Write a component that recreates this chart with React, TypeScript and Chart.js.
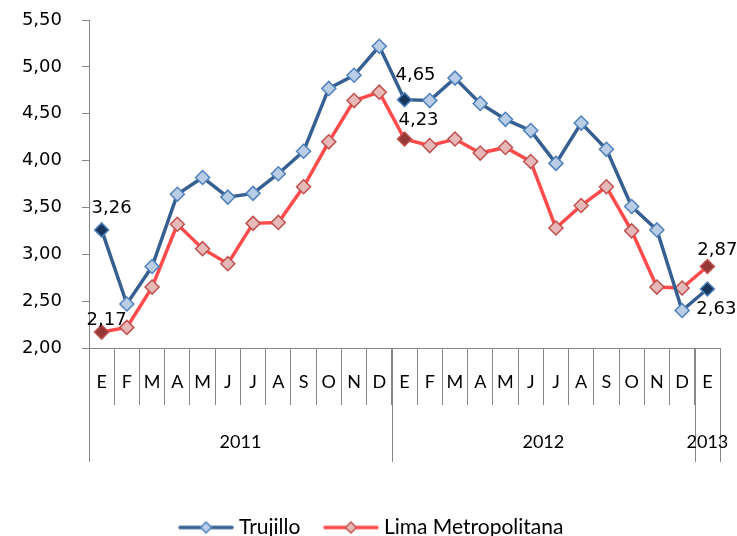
import React, { useEffect, useRef } from "react";
import { Chart, registerables } from "chart.js";

Chart.register(...registerables);

const months = ["E", "F", "M", "A", "M", "J", "J", "A", "S", "O", "N", "D", "E", "F", "M", "A", "M", "J", "J", "A", "S", "O", "N", "D", "E"];
const years = ["2011", "2012", "2013"];
const yearSpans = [12, 12, 1];

const trujillo = [3.26, 2.47, 2.87, 3.64, 3.82, 3.61, 3.65, 3.86, 4.10, 4.77, 4.91, 5.22, 4.65, 4.64, 4.88, 4.61, 4.44, 4.32, 3.97, 4.40, 4.12, 3.51, 3.26, 2.40, 2.63];
const lima = [2.17, 2.22, 2.65, 3.32, 3.06, 2.90, 3.33, 3.34, 3.72, 4.20, 4.64, 4.73, 4.23, 4.16, 4.23, 4.08, 4.14, 3.99, 3.28, 3.52, 3.72, 3.25, 2.65, 2.64, 2.87];
const labeledIdx = [0, 12, 24];
const yTicks = [2.0, 2.5, 3.0, 3.5, 4.0, 4.5, 5.0, 5.5];

// label offsets (style) relative to the points
const labelOffsets: Record<number, [number, number][]> = {
  0: [[10, -22], [11, -24], [9, 20]],
  1: [[5, -12], [14, -19], [10, -16]],
};

const AXIS = "#878787";
const T_LINE = "#376092";
const T_FILL = "#B9CDE5";
const T_BORDER = "#4F81BD";
const T_DARK = "#17375E";
const L_LINE = "#FF4B4B";
const L_FILL = "#E6B9B8";
const L_BORDER = "#C0504D";
const L_DARK = "#953735";

const fmt = (v: number) => v.toFixed(2).replace(".", ",");

function legendImage(line: string, fill: string, border: string) {
  const c = document.createElement("canvas");
  c.width = 56;
  c.height = 16;
  const g = c.getContext("2d")!;
  g.strokeStyle = line;
  g.lineWidth = 3.5;
  g.lineCap = "round";
  g.beginPath();
  g.moveTo(2, 8);
  g.lineTo(54, 8);
  g.stroke();
  g.fillStyle = fill;
  g.strokeStyle = border;
  g.lineWidth = 1.5;
  g.beginPath();
  g.moveTo(28 - 5.5, 8);
  g.lineTo(28, 8 - 5.5);
  g.lineTo(28 + 5.5, 8);
  g.lineTo(28, 8 + 5.5);
  g.closePath();
  g.fill();
  g.stroke();
  return c;
}

const yearRowPlugin = {
  id: "yearRow",
  afterDraw(chart: any) {
    const x = chart.scales.x;
    const ctx = chart.ctx;
    const half = (x.getPixelForValue(1) - x.getPixelForValue(0)) / 2;
    const top = x.top;
    ctx.save();
    ctx.strokeStyle = AXIS;
    ctx.lineWidth = 1;
    ctx.fillStyle = "#000";
    ctx.font = "18px Lato";
    ctx.textAlign = "center";
    ctx.textBaseline = "middle";
    let start = 0;
    years.forEach((yr, k) => {
      const end = start + yearSpans[k];
      const left = x.getPixelForValue(start) - half;
      const right = x.getPixelForValue(end - 1) + half;
      [left, right].forEach((px) => {
        const p = Math.round(px) + 0.5;
        ctx.beginPath();
        ctx.moveTo(p, top);
        ctx.lineTo(p, top + 114);
        ctx.stroke();
      });
      ctx.fillText(yr, (left + right) / 2, top + 94);
      start = end;
    });
    ctx.restore();
  },
};

const dataLabelPlugin = {
  id: "dataLabels",
  afterDatasetsDraw(chart: any) {
    const ctx = chart.ctx;
    ctx.save();
    ctx.fillStyle = "#000";
    ctx.font = "18px 'DejaVu Sans'";
    ctx.textAlign = "center";
    ctx.textBaseline = "middle";
    chart.data.datasets.forEach((ds: any, di: number) => {
      const meta = chart.getDatasetMeta(di);
      labeledIdx.forEach((idx, k) => {
        const pt = meta.data[idx];
        const [dx, dy] = labelOffsets[di][k];
        ctx.fillText(fmt(ds.data[idx]), pt.x + dx, pt.y + dy);
      });
    });
    ctx.restore();
  },
};

export default function App() {
  const ref = useRef<HTMLCanvasElement>(null);
  useEffect(() => {
    document.body.style.margin = "0";
    const tImg = legendImage(T_LINE, T_FILL, T_BORDER);
    const lImg = legendImage(L_LINE, L_FILL, L_BORDER);
    const pointFills = (fill: string, dark: string) => months.map((_, i) => (labeledIdx.includes(i) ? dark : fill));
    const chart = new Chart(ref.current!, {
      type: "line",
      data: {
        labels: months,
        datasets: [
          {
            label: "Trujillo",
            data: trujillo,
            borderColor: T_LINE,
            borderWidth: 3.5,
            pointStyle: "rectRot",
            pointRadius: 7,
            pointBorderWidth: 1.5,
            pointBackgroundColor: pointFills(T_FILL, T_DARK),
            pointBorderColor: T_BORDER,
            tension: 0,
          },
          {
            label: "Lima Metropolitana",
            data: lima,
            borderColor: L_LINE,
            borderWidth: 3.5,
            pointStyle: "rectRot",
            pointRadius: 7,
            pointBorderWidth: 1.5,
            pointBackgroundColor: pointFills(L_FILL, L_DARK),
            pointBorderColor: L_BORDER,
            tension: 0,
          },
        ],
      },
      options: {
        responsive: false,
        animation: false,
        layout: { padding: { top: 20, right: 0, bottom: -12, left: 10 } },
        plugins: {
          tooltip: { enabled: false },
          legend: {
            position: "bottom",
            labels: {
              usePointStyle: true,
              pointStyleWidth: 45,
              padding: 28,
              color: "#000",
              font: { family: "Lato", size: 21 },
              generateLabels: () => [
                { text: "Trujillo", pointStyle: tImg as any, datasetIndex: 0, hidden: false, lineWidth: 0, rotation: 0 },
                { text: "Lima Metropolitana", pointStyle: lImg as any, datasetIndex: 1, hidden: false, lineWidth: 0, rotation: 0 },
              ],
            },
          },
        },
        scales: {
          x: {
            type: "category",
            offset: true,
            grid: { offset: true, drawOnChartArea: false, tickLength: 57, color: AXIS, lineWidth: 1 },
            border: { color: AXIS, width: 1 },
            ticks: { color: "#000", font: { family: "Lato", size: 18 }, padding: -34, autoSkip: false, maxRotation: 0 },
            afterFit: (s: any) => {
              s.height = 141;
            },
          },
          y: {
            min: 2,
            max: 5.5,
            afterBuildTicks: (s: any) => {
              s.ticks = yTicks.map((v) => ({ value: v }));
            },
            grid: { drawOnChartArea: false, tickLength: 7, color: AXIS },
            border: { color: AXIS, width: 1 },
            ticks: {
              color: "#000",
              font: { family: "DejaVu Sans", size: 18 },
              padding: 20,
              callback: (v: any) => fmt(Number(v)),
            },
            afterFit: (s: any) => {
              s.width = 79;
              s.paddingTop = 0;
              s.paddingBottom = 0;
            },
          },
          spacer: {
            position: "right",
            display: true,
            grid: { display: false, drawTicks: false },
            border: { display: false },
            ticks: { display: false },
            afterFit: (s: any) => {
              s.width = 17;
              s.paddingTop = 0;
              s.paddingBottom = 0;
            },
          },
        },
      },
      plugins: [yearRowPlugin, dataLabelPlugin],
    });
    return () => chart.destroy();
  }, []);
  return <canvas ref={ref} width={737} height={536} style={{ display: "block" }} />;
}
